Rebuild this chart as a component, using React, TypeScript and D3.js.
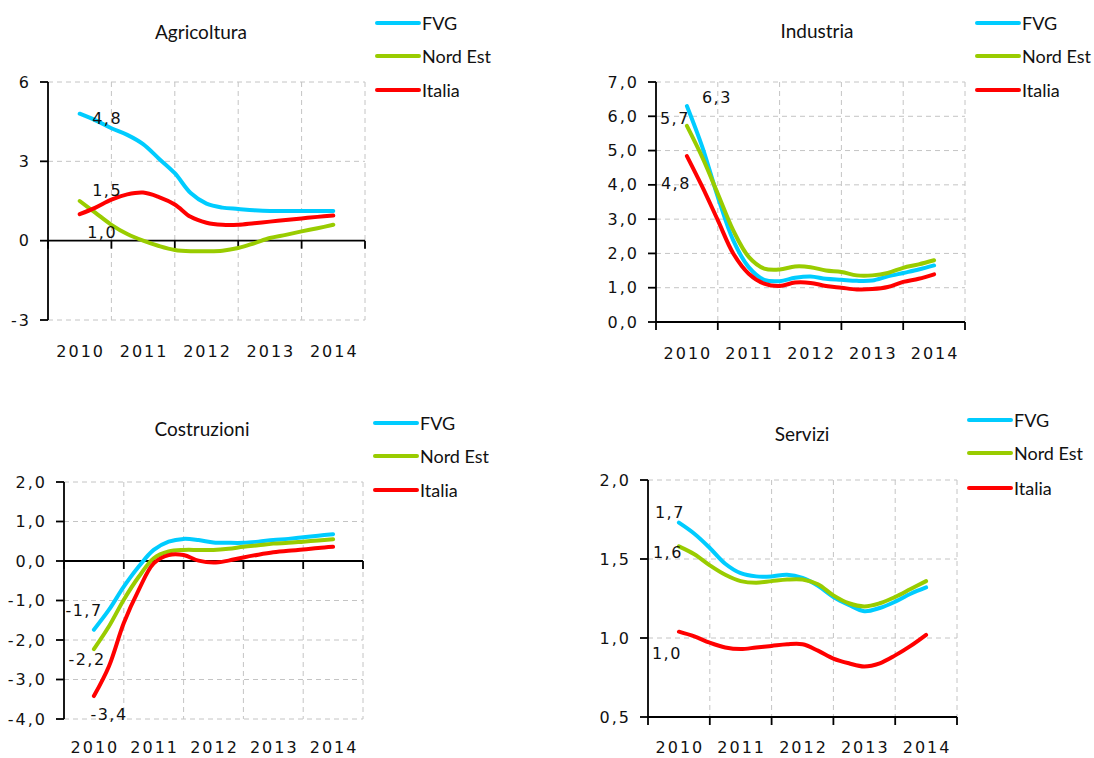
import React from 'react';
import * as d3 from 'd3';

// ---------- DATA ----------
const periods = [2010, 2010.25, 2010.5, 2010.75, 2011, 2011.25, 2011.5, 2011.75, 2012, 2012.25, 2012.5, 2012.75, 2013, 2013.25, 2013.5, 2013.75, 2014];
const yearLabels = [2010, 2011, 2012, 2013, 2014];
const seriesNames = ['FVG', 'Nord Est', 'Italia'];
const seriesColors = ['#00CCFF', '#99CC00', '#FF0000'];

const agriFVG = [4.8, 4.55, 4.25, 4.0, 3.65, 3.1, 2.55, 1.8, 1.4, 1.25, 1.2, 1.15, 1.12, 1.12, 1.12, 1.12, 1.12];
const agriNordEst = [1.5, 1.05, 0.6, 0.25, 0.0, -0.2, -0.35, -0.4, -0.4, -0.38, -0.28, -0.1, 0.1, 0.22, 0.35, 0.47, 0.6];
const agriItalia = [1.0, 1.25, 1.55, 1.75, 1.82, 1.65, 1.37, 0.9, 0.68, 0.6, 0.6, 0.66, 0.72, 0.78, 0.84, 0.9, 0.95];

const indFVG = [6.3, 5.1, 3.65, 2.38, 1.6, 1.23, 1.19, 1.29, 1.33, 1.26, 1.23, 1.2, 1.21, 1.33, 1.43, 1.53, 1.65];
const indNordEst = [5.72, 4.8, 3.74, 2.67, 1.9, 1.56, 1.53, 1.62, 1.6, 1.5, 1.46, 1.36, 1.36, 1.43, 1.58, 1.68, 1.8];
const indItalia = [4.84, 3.94, 2.97, 2.0, 1.41, 1.12, 1.05, 1.15, 1.14, 1.05, 1.0, 0.95, 0.96, 1.02, 1.17, 1.26, 1.39];

const costFVG = [-1.74, -1.24, -0.65, -0.14, 0.28, 0.49, 0.56, 0.53, 0.47, 0.46, 0.46, 0.49, 0.53, 0.56, 0.6, 0.64, 0.68];
const costNordEst = [-2.23, -1.66, -0.98, -0.4, 0.07, 0.24, 0.28, 0.28, 0.28, 0.31, 0.36, 0.4, 0.44, 0.46, 0.49, 0.52, 0.55];
const costItalia = [-3.42, -2.67, -1.57, -0.73, -0.06, 0.15, 0.15, 0.01, -0.04, 0.01, 0.09, 0.16, 0.22, 0.26, 0.29, 0.33, 0.36];

const servFVG = [1.73, 1.66, 1.57, 1.47, 1.41, 1.39, 1.39, 1.4, 1.38, 1.33, 1.26, 1.21, 1.17, 1.19, 1.23, 1.28, 1.32];
const servNordEst = [1.58, 1.53, 1.46, 1.4, 1.36, 1.35, 1.36, 1.37, 1.37, 1.34, 1.27, 1.22, 1.2, 1.22, 1.26, 1.31, 1.36];
const servItalia = [1.04, 1.01, 0.97, 0.94, 0.93, 0.94, 0.95, 0.96, 0.96, 0.92, 0.87, 0.84, 0.82, 0.84, 0.89, 0.95, 1.02];

const agriTicks = [-3, 0, 3, 6];
const indTicks = [0, 1, 2, 3, 4, 5, 6, 7];
const costTicks = [-4, -3, -2, -1, 0, 1, 2];
const servTicks = [0.5, 1.0, 1.5, 2.0];

// ---------- LAYOUT ----------
const fmtInt = (d: number) => String(d);
const fmtDec = (d: number) => d.toFixed(1).replace('.', ',');

const panels = [
  {
    title: 'Agricoltura', series: [agriFVG, agriNordEst, agriItalia], ticks: agriTicks, fmt: fmtInt,
    left: 48, right: 365, top: 82, bottom: 320, axisAt: 0,
    titleX: 201, titleY: 39, legendX: 377, legendY: [23, 56, 90],
    labelOff: [[12.5, 10], [12.5, -5], [7.5, 24]],
  },
  {
    title: 'Industria', series: [indFVG, indNordEst, indItalia], ticks: indTicks, fmt: fmtDec,
    left: 656, right: 965, top: 82, bottom: 322, axisAt: 0,
    titleX: 817, titleY: 38, legendX: 977, legendY: [23, 56, 90],
    labelOff: [[15, -3], [-27, -2], [-26, 33]],
  },
  {
    title: 'Costruzioni', series: [costFVG, costNordEst, costItalia], ticks: costTicks, fmt: fmtDec,
    left: 64, right: 363, top: 482, bottom: 719, axisAt: 0,
    titleX: 202, titleY: 436, legendX: 375, legendY: [423, 456, 490],
    labelOff: [[-28.5, -14], [-25.5, 16], [-3.5, 24]],
  },
  {
    title: 'Servizi', series: [servFVG, servNordEst, servItalia], ticks: servTicks, fmt: fmtDec,
    left: 648, right: 957, top: 480, bottom: 717, axisAt: 0.5,
    titleX: 802, titleY: 441, legendX: 969, legendY: [420, 453, 488],
    labelOff: [[-24, -5], [-26, 12], [-27, 27]],
  },
];

const tickFont = '"DejaVu Sans", Verdana, sans-serif';
const textFont = 'Lato, "Open Sans", sans-serif';

function Panel({ p }: { p: typeof panels[number] }) {
  const x = d3.scaleLinear().domain([2009.5, 2014.5]).range([p.left, p.right]);
  const yMin = d3.min(p.ticks) as number;
  const yMax = d3.max(p.ticks) as number;
  const y = d3.scaleLinear().domain([yMin, yMax]).range([p.bottom, p.top]);
  const boundaries = d3.range(2009.5, 2015, 1);
  const axisY = y(p.axisAt);
  const line = d3.line<number>()
    .x((_, i) => x(periods[i]))
    .y((d) => y(d))
    .curve(d3.curveCatmullRom.alpha(0.5));
  const labelY = Math.min(p.bottom + 37, 753);

  return (
    <g>
      <text x={p.titleX} y={p.titleY} textAnchor="middle" fontFamily={textFont} fontSize={19} fill="#111">{p.title}</text>
      {/* horizontal grid */}
      {p.ticks.filter((t) => t !== p.axisAt).map((t) => (
        <line key={'hg' + t} x1={p.left} x2={p.right} y1={y(t)} y2={y(t)} stroke="#c4c4c4" strokeWidth={1} strokeDasharray="5,4" />
      ))}
      {/* vertical grid */}
      {boundaries.slice(1).map((b) => (
        <line key={'vg' + b} x1={x(b)} x2={x(b)} y1={p.top} y2={p.bottom} stroke="#c4c4c4" strokeWidth={1} strokeDasharray="5,4" />
      ))}
      {/* y axis */}
      <line x1={p.left} x2={p.left} y1={p.top} y2={p.bottom} stroke="#000" strokeWidth={1.8} />
      {p.ticks.map((t) => (
        <g key={'yt' + t}>
          <line x1={p.left - 8} x2={p.left} y1={y(t)} y2={y(t)} stroke="#000" strokeWidth={1.8} />
          <text x={p.left - 17} y={y(t)} textAnchor="end" dominantBaseline="central" fontFamily={tickFont} fontSize={16} letterSpacing={2} fill="#111">{p.fmt(t)}</text>
        </g>
      ))}
      {/* x axis */}
      <line x1={p.left} x2={p.right} y1={axisY} y2={axisY} stroke="#000" strokeWidth={1.8} />
      {boundaries.map((b) => (
        <line key={'xt' + b} x1={x(b)} x2={x(b)} y1={axisY} y2={axisY + 8} stroke="#000" strokeWidth={1.8} />
      ))}
      {yearLabels.map((yr) => (
        <text key={'xl' + yr} x={x(yr) + 1} y={labelY} textAnchor="middle" fontFamily={tickFont} fontSize={16} letterSpacing={2} fill="#111">{yr}</text>
      ))}
      {/* series */}
      {p.series.map((s, i) => (
        <path key={'s' + i} d={line(s) || ''} fill="none" stroke={seriesColors[i]} strokeWidth={4} strokeLinecap="round" strokeLinejoin="round" />
      ))}
      {/* data labels */}
      {p.series.map((s, i) => (
        <text key={'dl' + i} x={x(periods[0]) + p.labelOff[i][0]} y={y(s[0]) + p.labelOff[i][1]} fontFamily={tickFont} fontSize={16} letterSpacing={1.5} fill="#111">{fmtDec(s[0])}</text>
      ))}
      {/* legend */}
      {seriesNames.map((n, i) => (
        <g key={'lg' + n}>
          <line x1={p.legendX} x2={p.legendX + 42} y1={p.legendY[i]} y2={p.legendY[i]} stroke={seriesColors[i]} strokeWidth={4} strokeLinecap="round" />
          <text x={p.legendX + 45} y={p.legendY[i]} dominantBaseline="central" fontFamily={textFont} fontSize={18} fill="#111">{n}</text>
        </g>
      ))}
    </g>
  );
}

export default function App() {
  return (
    <svg width={1094} height={758} style={{ position: 'absolute', left: 0, top: 0, background: '#fff' }}>
      <rect x={0} y={0} width={1094} height={758} fill="#fff" />
      {panels.map((p) => <Panel key={p.title} p={p} />)}
    </svg>
  );
}
